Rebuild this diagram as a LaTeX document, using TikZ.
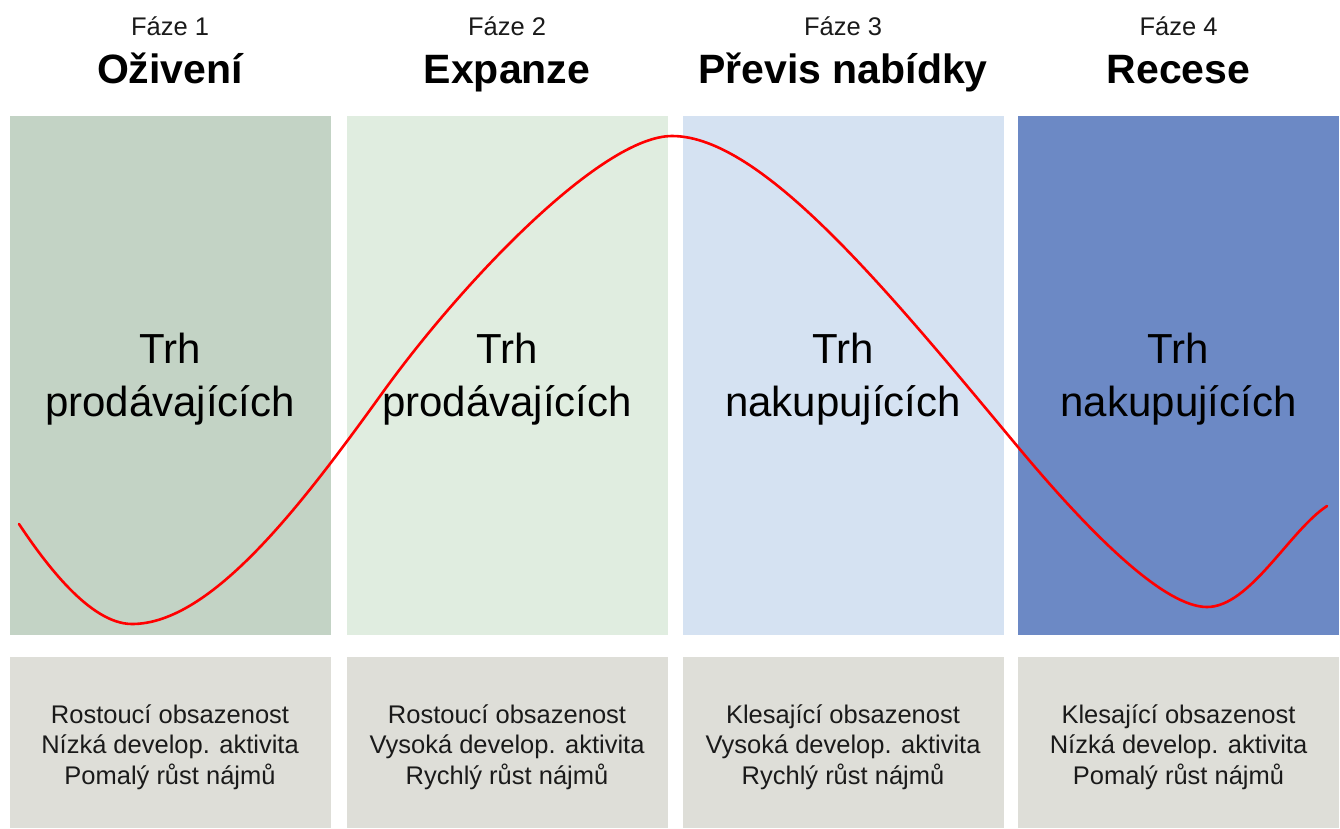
\documentclass[tikz,border=0pt]{standalone}
\usepackage{fontspec}
\setmainfont{Liberation Sans}
\definecolor{cA}{HTML}{C3D3C5}
\definecolor{cB}{HTML}{E0EDE0}
\definecolor{cC}{HTML}{D5E2F2}
\definecolor{cD}{HTML}{6C89C5}
\definecolor{cBot}{HTML}{DEDED8}
\definecolor{cTxt}{HTML}{1A1A1A}
\tikzset{
  panel/.style={draw=none, inner sep=0pt, minimum width=321pt, minimum height=519pt},
  infobox/.style={draw=none, fill=cBot, inner sep=0pt, minimum width=321pt, minimum height=171pt},
  phase/.style={anchor=base, inner sep=0pt, text=cTxt, font=\fontsize{25.5}{30}\selectfont},
  ptitle/.style={anchor=base, inner sep=0pt, text=black, font=\fontsize{41}{48}\selectfont\bfseries},
  market/.style={anchor=base, inner sep=0pt, text=black, font=\fontsize{42}{50}\selectfont},
  info/.style={anchor=base, inner sep=0pt, text=cTxt, font=\fontsize{25.5}{30}\selectfont},
  cycle/.style={draw=red, line width=2.6pt, line cap=round}
}
\begin{document}
\begin{tikzpicture}[x=1pt,y=-1pt]
\useasboundingbox (0,0) rectangle (1340,828);
\fill[white] (0,0) rectangle (1340,828);
% panels
\node[panel, fill=cA] (p1) at (170,375.5) {};
\node[panel, fill=cB] (p2) at (507,375.5) {};
\node[panel, fill=cC] (p3) at (843,375.5) {};
\node[panel, fill=cD] (p4) at (1178.5,375.5) {};
% bottom boxes
\node[infobox] (b1) at (170,742.5) {};
\node[infobox] (b2) at (507,742.5) {};
\node[infobox] (b3) at (843,742.5) {};
\node[infobox] (b4) at (1178.5,742.5) {};
% phase labels
\node[phase] (f1) at (170,35) {Fáze 1};
\node[phase] (f2) at (507,35) {Fáze 2};
\node[phase] (f3) at (843,35) {Fáze 3};
\node[phase] (f4) at (1178.5,35) {Fáze 4};
\node[ptitle] (h1) at (170,83) {Oživení};
\node[ptitle] (h2) at (507,83) {Expanze};
\node[ptitle] (h3) at (843,83) {Převis nabídky};
\node[ptitle] (h4) at (1178.5,83) {Recese};
% market labels
\node[market] (m1a) at (170,363) {Trh};
\node[market] (m1b) at (170,416) {prodávajících};
\node[market] (m2a) at (507,363) {Trh};
\node[market] (m2b) at (507,416) {prodávajících};
\node[market] (m3a) at (843,363) {Trh};
\node[market] (m3b) at (843,416) {nakupujících};
\node[market] (m4a) at (1178.5,363) {Trh};
\node[market] (m4b) at (1178.5,416) {nakupujících};
% curve
\coordinate (c0) at (19,524);
\coordinate (cmin1) at (132,624);
\coordinate (cinf1) at (383,392);
\coordinate (cmax) at (672,136);
\coordinate (cinf2) at (1018,447);
\coordinate (cmin2) at (1207,607);
\coordinate (cend) at (1327,506);
\draw[cycle] (c0) .. controls (45,563) and (90,624) .. (cmin1)
  .. controls (212,624) and (303,503) .. (cinf1)
  .. controls (463,281) and (602,136) .. (cmax)
  .. controls (762,136) and (888,291) .. (cinf2)
  .. controls (1098,543) and (1167,607) .. (cmin2)
  .. controls (1250,607) and (1290,530) .. (cend);
% info texts
\node[info] (i1a) at (170,723) {Rostoucí obsazenost};
\node[info] (i1b) at (170,753.5) {Nízká develop. aktivita};
\node[info] (i1c) at (170,784) {Pomalý růst nájmů};
\node[info] (i2a) at (507,723) {Rostoucí obsazenost};
\node[info] (i2b) at (507,753.5) {Vysoká develop. aktivita};
\node[info] (i2c) at (507,784) {Rychlý růst nájmů};
\node[info] (i3a) at (843,723) {Klesající obsazenost};
\node[info] (i3b) at (843,753.5) {Vysoká develop. aktivita};
\node[info] (i3c) at (843,784) {Rychlý růst nájmů};
\node[info] (i4a) at (1178.5,723) {Klesající obsazenost};
\node[info] (i4b) at (1178.5,753.5) {Nízká develop. aktivita};
\node[info] (i4c) at (1178.5,784) {Pomalý růst nájmů};
\end{tikzpicture}
\end{document}
